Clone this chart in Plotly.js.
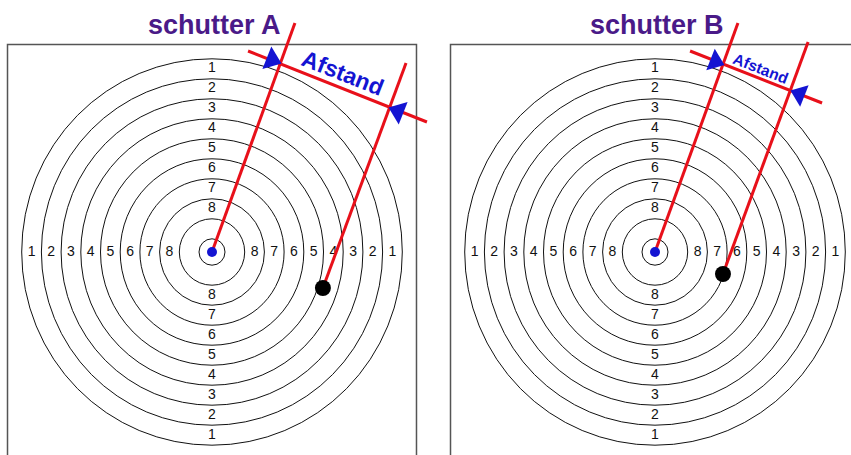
<!DOCTYPE html>
<html><head><meta charset="utf-8">
<script src="https://cdn.plot.ly/plotly-3.0.1.min.js"></script>
<style>html,body{margin:0;padding:0;background:#fff}#chart{width:851px;height:455px}</style>
</head><body><div id="chart"></div>
<script>
// ---- data (target units: one ring width) ----
const panelTitles = ['schutter A', 'schutter B'];
const ringRadii = [0.66, 1.66, 2.66, 3.66, 4.66, 5.66, 6.66, 7.66, 8.66, 9.66];
const ringScores = [1, 2, 3, 4, 5, 6, 7, 8];
const centerX = [0], centerY = [0];
const shotAx = [5.63], shotAy = [-1.8];
const shotBx = [3.45], shotBy = [-1.1];
const lineA1x = [0, 4.21], lineA1y = [0, 11.45];
const lineA2x = [5.63, 9.85], lineA2y = [-1.8, 9.45];
const perpAx = [1.83, 10.91], perpAy = [10.05, 6.5];
const lineB1x = [0, 4.21], lineB1y = [0, 11.45];
const lineB2x = [3.45, 7.77], lineB2y = [-1.1, 10.5];
const perpBx = [1.78, 8.48], perpBy = [10.05, 7.45];
const tipsAx = [3.45, 9.04], tipsAy = [9.45, 7.2];
const tipsBx = [3.45, 6.95], tipsBy = [9.38, 8.05];
const distLabel = 'Afstand';

// ---- layout helpers ----
const W = 851, H = 455;
const xu = 19.7, yu = 20;          // px per unit
const splitPx = 430;
const cxA = 212, cxB = 655, cy = 252;
const boxHalf = 10.38;
const arrowAngle = 21.5;
const RED = '#e8101a', BLUE = '#1414d2', PURPLE = '#4a1a88';

function labelR(s) { return (ringRadii[10 - s] + ringRadii[9 - s]) / 2; }

const traces = [];
const shapes = [];
const annotations = [];

const panels = [
  {xa: 'x', ya: 'y', shotX: shotAx, shotY: shotAy, l1x: lineA1x, l1y: lineA1y, l2x: lineA2x, l2y: lineA2y,
   px: perpAx, py: perpAy, tx: tipsAx, ty: tipsAy, title: panelTitles[0], cx: cxA,
   txtX: 6.65, txtY: 8.95, txtSize: 23, arrowSize: 21},
  {xa: 'x2', ya: 'y2', shotX: shotBx, shotY: shotBy, l1x: lineB1x, l1y: lineB1y, l2x: lineB2x, l2y: lineB2y,
   px: perpBx, py: perpBy, tx: tipsBx, ty: tipsBy, title: panelTitles[1], cx: cxB,
   txtX: 5.38, txtY: 9.2, txtSize: 15.5, arrowSize: 20}
];

const dirx = Math.cos(arrowAngle * Math.PI / 180), diry = Math.sin(arrowAngle * Math.PI / 180);

panels.forEach((p, i) => {
  const xref = p.xa, yref = p.ya;
  shapes.push({type: 'rect', xref, yref, x0: -boxHalf, x1: boxHalf, y0: -boxHalf, y1: boxHalf,
    line: {color: '#555', width: 1.5}, layer: 'below'});
  ringRadii.forEach(r => shapes.push({type: 'circle', xref, yref, x0: -r, x1: r, y0: -r, y1: r,
    line: {color: '#111', width: 1}, layer: 'below'}));
  const lx = [], ly = [], lt = [];
  ringScores.forEach(s => {
    const r = labelR(s);
    lx.push(-r, r, 0, 0); ly.push(0, 0, r, -r); lt.push(String(s), String(s), String(s), String(s));
  });
  traces.push({type: 'scatter', mode: 'text', x: lx, y: ly, text: lt, xaxis: xref, yaxis: yref,
    textfont: {family: 'Arial, Liberation Sans, sans-serif', size: 14, color: '#111'}, hoverinfo: 'skip'});
  [[p.l1x, p.l1y], [p.l2x, p.l2y], [p.px, p.py]].forEach(([x, y]) => traces.push({
    type: 'scatter', mode: 'lines', x, y, xaxis: xref, yaxis: yref,
    line: {color: RED, width: 3}, hoverinfo: 'skip'}));
  traces.push({type: 'scatter', mode: 'markers', x: centerX, y: centerY, xaxis: xref, yaxis: yref,
    marker: {color: BLUE, size: 10, line: {width: 0}}, hoverinfo: 'skip'});
  traces.push({type: 'scatter', mode: 'markers', x: p.shotX, y: p.shotY, xaxis: xref, yaxis: yref,
    marker: {color: '#000', size: 16, line: {width: 0}}, hoverinfo: 'skip'});
  const off = p.arrowSize * 0.42;
  traces.push({type: 'scatter', mode: 'markers',
    x: [p.tx[0] - dirx * off / xu, p.tx[1] + dirx * off / xu],
    y: [p.ty[0] + diry * off / yu, p.ty[1] - diry * off / yu],
    xaxis: xref, yaxis: yref, hoverinfo: 'skip',
    marker: {symbol: ['triangle-right', 'triangle-left'], angle: [arrowAngle, arrowAngle],
      size: p.arrowSize, color: BLUE, line: {width: 0}}});
  annotations.push({xref, yref, x: p.txtX, y: p.txtY, text: '<b>' + distLabel + '</b>', showarrow: false,
    textangle: arrowAngle, font: {family: 'Arial, Liberation Sans, sans-serif', size: p.txtSize, color: BLUE}});
  annotations.push({xref: 'paper', yref: 'paper', x: (i === 0 ? 214 : 657) / W, y: 1 - 25 / H,
    xanchor: 'center', yanchor: 'middle', showarrow: false, text: '<b>' + p.title + '</b>',
    font: {family: 'Arial, Liberation Sans, sans-serif', size: 27, color: PURPLE}});
});

function ax(domain, range, anchor) {
  return {domain, range, anchor, showgrid: false, zeroline: false, showticklabels: false,
    showline: false, ticks: '', fixedrange: true};
}

const yRange = [-(H - cy) / yu, cy / yu];
const layout = {
  width: W, height: H, margin: {l: 0, r: 0, t: 0, b: 0},
  paper_bgcolor: '#fff', plot_bgcolor: 'rgba(0,0,0,0)', showlegend: false,
  xaxis: ax([0, splitPx / W], [-cxA / xu, (splitPx - cxA) / xu], 'y'),
  yaxis: ax([0, 1], yRange, 'x'),
  xaxis2: ax([splitPx / W, 1], [-(cxB - splitPx) / xu, (W - cxB) / xu], 'y2'),
  yaxis2: ax([0, 1], yRange, 'x2'),
  shapes, annotations
};

Plotly.newPlot('chart', traces, layout, {staticPlot: true, displayModeBar: false});
</script>
</body></html>
